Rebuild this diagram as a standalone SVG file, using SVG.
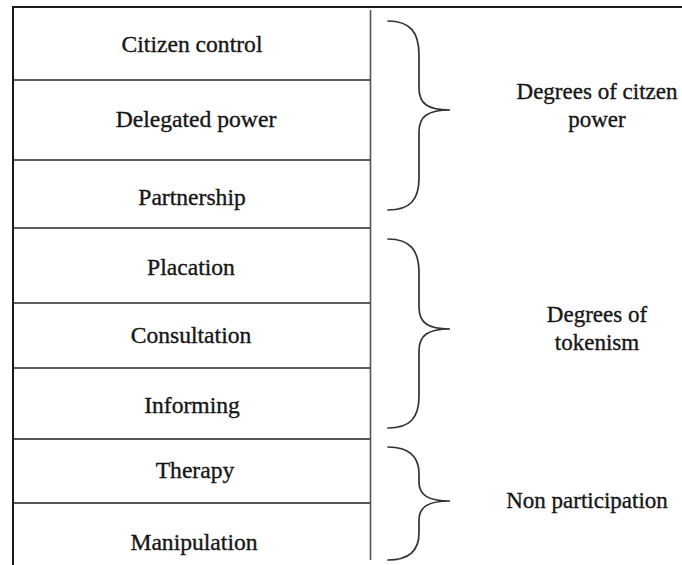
<svg xmlns="http://www.w3.org/2000/svg" width="682" height="565" viewBox="0 0 682 565">
  <style>
    .frame { stroke: #1a1a1a; stroke-width: 2; fill: none; }
    .rule { stroke: #2a2a2a; stroke-width: 1.6; fill: none; }
    .rule-soft { stroke: #555; stroke-width: 2; fill: none; }
    .brace { stroke: #333; stroke-width: 1.7; fill: none; stroke-linecap: round; }
    text { font-family: 'Liberation Serif', 'Times New Roman', serif; fill: #161616; stroke: #161616; stroke-width: 0.35; text-anchor: middle; }
    .rung { font-size: 23.6px; }
    .group-label { font-size: 23px; }
  </style>
  <rect width="682" height="565" fill="#ffffff"/>

  <!-- ladder frame -->
  <g id="frame">
    <path class="frame" d="M13 565 L13 7 L682 7"/>
    <line class="rule-soft" x1="370.5" y1="10" x2="370.5" y2="560" style="stroke-width:1.6"/>
  </g>

  <!-- rung separators -->
  <g id="connectors">
    <line class="rule" x1="14" y1="80" x2="370" y2="80"/>
    <line class="rule" x1="14" y1="160" x2="370" y2="160"/>
    <line class="rule" x1="14" y1="228" x2="370" y2="228"/>
    <line class="rule" x1="14" y1="303" x2="370" y2="303"/>
    <line class="rule" x1="14" y1="368" x2="370" y2="368"/>
    <line class="rule-soft" x1="14" y1="439" x2="370" y2="439"/>
    <line class="rule-soft" x1="14" y1="503" x2="370" y2="503"/>
  </g>

  <!-- rungs -->
  <g id="citizen-control"><text class="rung" x="192" y="52">Citizen control</text></g>
  <g id="delegated-power"><text class="rung" x="196" y="127">Delegated power</text></g>
  <g id="partnership"><text class="rung" x="192" y="205">Partnership</text></g>
  <g id="placation"><text class="rung" x="191" y="275">Placation</text></g>
  <g id="consultation"><text class="rung" x="191" y="343">Consultation</text></g>
  <g id="informing"><text class="rung" x="192" y="413">Informing</text></g>
  <g id="therapy"><text class="rung" x="195" y="478">Therapy</text></g>
  <g id="manipulation"><text class="rung" x="194" y="550">Manipulation</text></g>

  <!-- group braces and labels -->
  <g id="citizen-power">
    <path class="brace" d="M388 21 C410 21 419 32 419 55 L419 88 C419 104 428 110 450 110 C428 110 419 116 419 132 L419 178 C419 200 410 210 388 210"/>
    <text class="group-label" x="597" y="99">Degrees of citzen</text>
    <text class="group-label" x="597" y="127">power</text>
  </g>
  <g id="tokenism">
    <path class="brace" d="M388 239 C410 239 419 250 419 273 L419 307 C419 323 428 329 450 329 C428 329 419 335 419 351 L419 396 C419 418 410 428 388 428"/>
    <text class="group-label" x="597" y="322">Degrees of</text>
    <text class="group-label" x="597" y="350">tokenism</text>
  </g>
  <g id="non-participation">
    <path class="brace" d="M388 447 C408 447 419 456 419 474 L419 482 C419 495 428 501 450 501 C428 501 419 507 419 520 L419 533 C419 551 408 560 388 560"/>
    <text class="group-label" x="587" y="508">Non participation</text>
  </g>
</svg>
